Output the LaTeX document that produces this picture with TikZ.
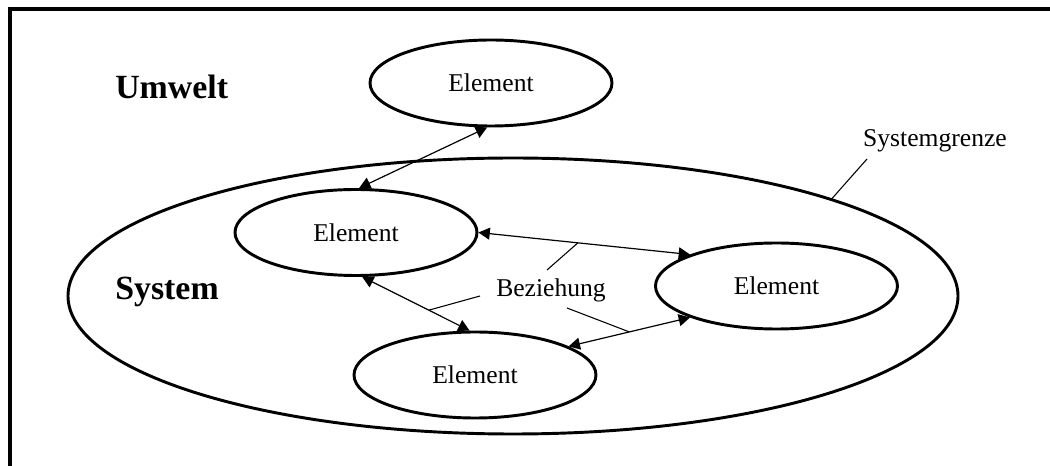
\documentclass[tikz,border=0pt]{standalone}
\usepackage{fontspec}
\setmainfont{Liberation Serif}
\usetikzlibrary{shapes.geometric, arrows.meta}

\tikzset{
  element/.style={draw, ellipse, line width=2.2pt, inner sep=0pt,
    minimum width=181.5pt, minimum height=64.5pt, font=\fontsize{19.2}{23}\selectfont},
  relation/.style={{Triangle[length=8.5pt,width=9pt]}-{Triangle[length=8.5pt,width=9pt]}, line width=0.9pt},
  pointer/.style={line width=0.8pt},
  note/.style={font=\fontsize{19.2}{23}\selectfont, inner sep=0pt},
  heading/.style={font=\bfseries\fontsize{25.4}{30}\selectfont, inner sep=0pt}
}

\begin{document}
\begin{tikzpicture}[x=0.75pt, y=-0.75pt]

\useasboundingbox (0,0) rectangle (1050,466);
\draw [line width=2.3pt] (1053,9) -- (10,9) -- (10,469);

\node [draw, ellipse, line width=2.2pt, minimum width=667.5pt, minimum height=207pt] (sys) at (513,296) {};

\node [element] (outside) at (491,83) {Element};
\node [element] (elemA) at (356,232.5) {Element};
\node [element] (elemB) at (776.5,286) {Element};
\node [element] (elemC) at (475,375) {Element};

\node [heading, anchor=base west] (umwelt) at (115,99) {Umwelt};
\node [heading, anchor=base west] (system) at (115,300) {System};
\node [note, anchor=base] (grenze) at (935,147) {Systemgrenze};
\node [note, anchor=base] (bez) at (551,297) {Beziehung};

\draw [relation] (outside.-95) -- (elemA.86);
\draw [relation] (elemA.east) -- coordinate[pos=0.47] (ab) (elemB.160);
\draw [relation] (elemA.-82) -- coordinate[pos=0.62] (ac) (elemC.97);
\draw [relation] (elemC.17) -- coordinate[pos=0.5] (bc) (elemB.200);

\coordinate (bez1) at (547,270);
\coordinate (bez2) at (480,296);
\coordinate (bez3) at (567,308);
\coordinate (grenzeend) at (867,159);

\draw [pointer] (bez1) -- (ab);
\draw [pointer] (bez2) -- (ac);
\draw [pointer] (bez3) -- (bc);
\draw [pointer] (grenzeend) -- (sys.17);

\end{tikzpicture}
\end{document}
